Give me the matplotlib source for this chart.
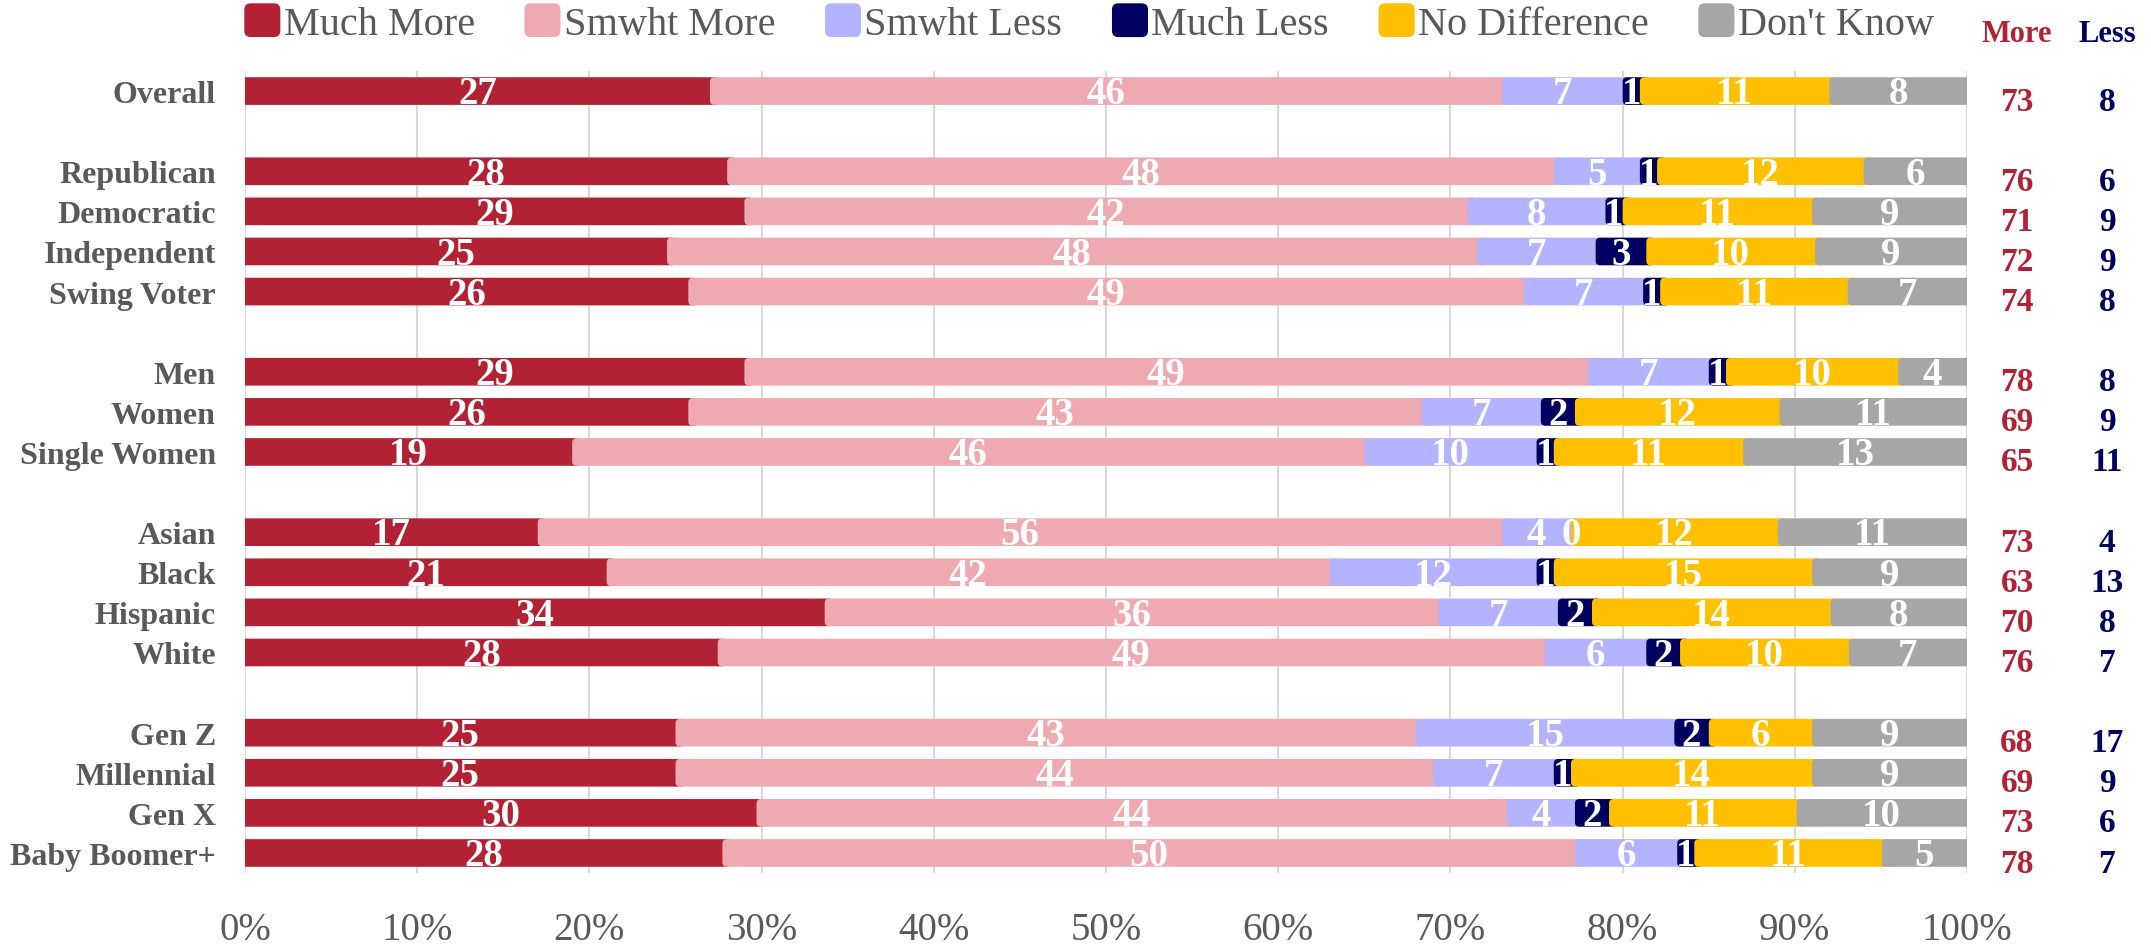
import numpy as np
import matplotlib
matplotlib.use('Agg')
import matplotlib.pyplot as plt
from matplotlib.patches import FancyBboxPatch, Patch
from matplotlib.legend_handler import HandlerPatch
import matplotlib.transforms as mtransforms

plt.rcParams['font.family'] = ['Liberation Serif', 'DejaVu Serif']

# Data
groups = [
    ['Overall'],
    ['Republican', 'Democratic', 'Independent', 'Swing Voter'],
    ['Men', 'Women', 'Single Women'],
    ['Asian', 'Black', 'Hispanic', 'White'],
    ['Gen Z', 'Millennial', 'Gen X', 'Baby Boomer+'],
]
series = ['Much More', 'Smwht More', 'Smwht Less', 'Much Less', 'No Difference', "Don't Know"]
much_more   = [27, 28, 29, 25, 26, 29, 26, 19, 17, 21, 34, 28, 25, 25, 30, 28]
smwht_more  = [46, 48, 42, 48, 49, 49, 43, 46, 56, 42, 36, 49, 43, 44, 44, 50]
smwht_less  = [7, 5, 8, 7, 7, 7, 7, 10, 4, 12, 7, 6, 15, 7, 4, 6]
much_less   = [1, 1, 1, 3, 1, 1, 2, 1, 0, 1, 2, 2, 2, 1, 2, 1]
no_diff     = [11, 12, 11, 10, 11, 10, 12, 11, 12, 15, 14, 10, 6, 14, 11, 11]
dont_know   = [8, 6, 9, 9, 7, 4, 11, 13, 11, 9, 8, 7, 9, 9, 10, 5]
more_total  = [73, 76, 71, 72, 74, 78, 69, 65, 73, 63, 70, 76, 68, 69, 73, 78]
less_total  = [8, 6, 9, 9, 8, 8, 9, 11, 4, 13, 8, 7, 17, 9, 6, 7]
ticks = np.arange(0, 101, 10)

colors = ['#B22234', '#EEAAB0', '#B3B3FF', '#000060', '#FFC000', '#A6A6A6']
red, navy, gray = '#B22234', '#000060', '#595959'

# row positions with a blank row between groups
labels, ypos = [], []
y = 0
for g in groups:
    for name in g:
        labels.append(name)
        ypos.append(y)
        y += 1
    y += 1
ypos = np.array(ypos)

vals = np.array([much_more, smwht_more, smwht_less, much_less, no_diff, dont_know], dtype=float)
shares = vals / vals.sum(axis=0) * 100

W, H = 2151, 945
ax_rect = [0.1139, 0.0751, 0.8006, 0.8487]
fig = plt.figure(figsize=(W / 100, H / 100), dpi=100)
ax = fig.add_axes(ax_rect)
ax.set_xlim(0, 100)
ax.set_ylim(ypos[-1] + 0.5, -0.5)

# rounded segment corners (about 4 px)
px_x = ax_rect[2] * W / 100
px_y = ax_rect[3] * H / (ypos[-1] + 1)
rad = 4.5 / px_x
aspect = px_x / px_y
bar_h = 0.69

left = np.zeros(len(labels))
for i in range(len(series)):
    for j in range(len(labels)):
        w = shares[i][j]
        x0 = left[j]
        if w > 0:
            start = x0 if i > 0 else -2
            end = x0 + w + (rad * 2 if i < len(series) - 1 else 2)
            ax.add_patch(FancyBboxPatch((start, ypos[j] - bar_h / 2), end - start, bar_h,
                                        boxstyle=f'round,pad=0,rounding_size={rad}',
                                        mutation_aspect=aspect, fc=colors[i], ec='none',
                                        lw=0, zorder=3 + i * 0.1))
        ax.text(x0 + w / 2, ypos[j] + 0.07, f'{int(vals[i][j])}', ha='center', va='center',
                color='white', fontsize=28, fontweight='bold', zorder=5)
    left += shares[i]

ax.set_xticks(ticks)
ax.set_xticklabels([f'{t}%' for t in ticks], fontsize=28, color=gray)
ax.set_yticks(ypos)
ax.set_yticklabels(labels, fontsize=23, fontweight='bold', color=gray)
ax.tick_params(axis='x', length=0, pad=27)
ax.tick_params(axis='y', length=0, pad=21)
ax.grid(axis='x', color='#D9D9D9', lw=1.5, zorder=0)
for s in ax.spines.values():
    s.set_visible(False)


def rounded_square(legend, orig_handle, xdescent, ydescent, width, height, fontsize):
    return FancyBboxPatch((-xdescent, -ydescent), width, height,
                          boxstyle='round,pad=0,rounding_size=4')


handles = [Patch(color=c, label=s) for c, s in zip(colors, series)]
fig.legend(handles=handles, loc='upper left', bbox_to_anchor=(245 / W, 1 - 5 / H),
           ncol=6, frameon=False, fontsize=29, borderpad=0, borderaxespad=0,
           handlelength=0.86, handleheight=0.86, handletextpad=0.1,
           columnspacing=1.25, labelcolor=gray,
           handler_map={Patch: HandlerPatch(patch_func=rounded_square)})

# More / Less columns
trans = mtransforms.blended_transform_factory(fig.transFigure, ax.transData)
fig.text(2017 / W, 1 - 35 / H, 'More', ha='center', va='center', color=red,
         fontsize=22, fontweight='bold')
fig.text(2107 / W, 1 - 35 / H, 'Less', ha='center', va='center', color=navy,
         fontsize=22, fontweight='bold')
for j in range(len(labels)):
    ax.text(2017 / W, ypos[j] + 0.25, str(more_total[j]), transform=trans,
            ha='center', va='center', color=red, fontsize=24, fontweight='bold')
    ax.text(2107 / W, ypos[j] + 0.25, str(less_total[j]), transform=trans,
            ha='center', va='center', color=navy, fontsize=24, fontweight='bold')

fig.savefig('out.png', dpi=100)
